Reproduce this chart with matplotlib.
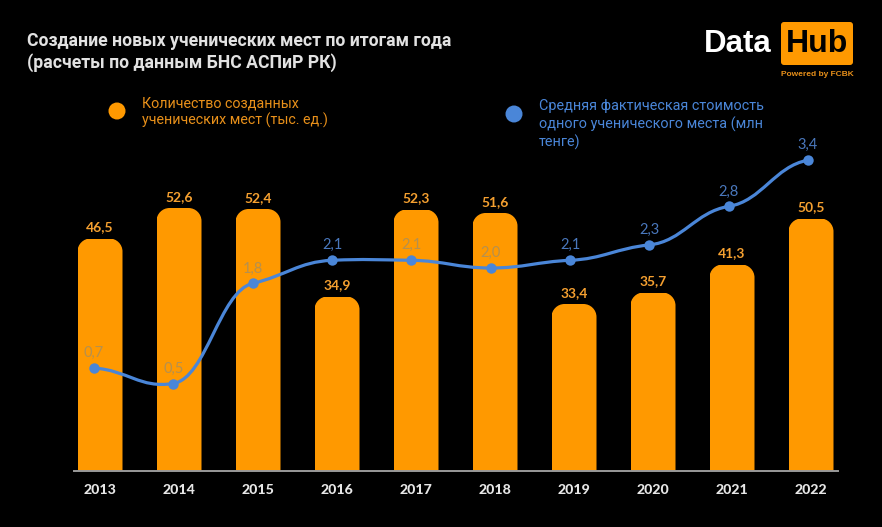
import matplotlib
matplotlib.use('Agg')
import matplotlib.pyplot as plt
from matplotlib.path import Path
from matplotlib.patches import PathPatch, Circle, FancyBboxPatch

W, H = 882, 527
ORANGE = '#ff9900'
BLUE = '#4a86d8'

years = ['2013', '2014', '2015', '2016', '2017', '2018', '2019', '2020', '2021', '2022']
places = [46.5, 52.6, 52.4, 34.9, 52.3, 51.6, 33.4, 35.7, 41.3, 50.5]
cost = [0.7, 0.5, 1.8, 2.1, 2.1, 2.0, 2.1, 2.3, 2.8, 3.4]
# cost labels sitting on top of a bar come out dim
cost_on_bar = [True, True, True, False, True, True, False, False, False, False]


def fmt(v):
    return f'{v:.1f}'.replace('.', ',')


def rounded_top(x0, x1, top, rx, ry):
    k = 0.45
    verts = [(x0, 0), (x0, top - ry), (x0, top - ry * k), (x0 + rx * k, top), (x0 + rx, top),
             (x1 - rx, top), (x1 - rx * k, top), (x1, top - ry * k), (x1, top - ry), (x1, 0), (x0, 0)]
    codes = [Path.MOVETO, Path.LINETO, Path.CURVE4, Path.CURVE4, Path.CURVE4,
             Path.LINETO, Path.CURVE4, Path.CURVE4, Path.CURVE4, Path.LINETO, Path.CLOSEPOLY]
    return Path(verts, codes)


def smooth_path(xs, ys, flat=0.3, h=0.42):
    # long handles and nearly flat tangents give the wavy look of the original line
    n = len(xs)
    m = []
    for i in range(n):
        a = max(i - 1, 0)
        b = min(i + 1, n - 1)
        m.append(flat * (ys[b] - ys[a]) / (xs[b] - xs[a]))
    verts = [(xs[0], ys[0])]
    codes = [Path.MOVETO]
    for i in range(n - 1):
        d = (xs[i + 1] - xs[i]) * h
        verts.append((xs[i] + d, ys[i] + m[i] * d))
        verts.append((xs[i + 1] - d, ys[i + 1] - m[i + 1] * d))
        verts.append((xs[i + 1], ys[i + 1]))
        codes += [Path.CURVE4] * 3
    return Path(verts, codes)


fig = plt.figure(figsize=(W / 100, H / 100), dpi=100, facecolor='black')
bg = fig.add_axes([0, 0, 1, 1])
bg.set_xlim(0, W)
bg.set_ylim(H, 0)
bg.axis('off')

ax = fig.add_axes([74 / W, 1 - 471 / H, 764 / W, 371 / H])
ax.set_facecolor('none')
ax.set_xlim(-26 / 79, 738 / 79)
ax.set_ylim(0, 74.2)
x = list(range(len(years)))
bars = ax.bar(x, places, width=45 / 79, color=ORANGE, linewidth=0)
for rect, v in zip(bars, places):
    x0 = rect.get_x()
    rect.set_clip_path(rounded_top(x0, x0 + rect.get_width(), v, 13 / 79, 13 / 5), ax.transData)
    ax.annotate(fmt(v), (rect.get_x() + rect.get_width() / 2, v), xytext=(0, 11), textcoords='offset pixels',
                ha='center', va='center', color='#f5a030', fontsize=10, fontweight='bold', family='Lato')

for s in ['top', 'left', 'right']:
    ax.spines[s].set_visible(False)
ax.spines['bottom'].set_color('#9a9a9a')
ax.spines['bottom'].set_linewidth(1.4)
ax.set_yticks([])
ax.set_xticks(x)
ax.set_xticklabels(years, color='#e6e6e6', fontsize=10.2, fontweight='black', family='Lato')
ax.tick_params(axis='x', length=0, pad=9)

ax2 = ax.twinx()
ax2.set_facecolor('none')
ax2.set_ylim(-49 / 77, 322 / 77)
ax2.axis('off')
# the line drifts a little against the bars, 6 px left at the start, 3 px at the end
line_x = [i - (6 - i / 3) / 79 for i in x]
ax2.add_patch(PathPatch(smooth_path(line_x, cost), fill=False, edgecolor=BLUE, linewidth=2.3, capstyle='round'))
ax2.plot(line_x, cost, 'o', color=BLUE, markersize=7.5, markeredgewidth=0)
for i, v in enumerate(cost):
    ax2.annotate(fmt(v), (line_x[i], v), xytext=(0, 15), textcoords='offset pixels', ha='center', va='center',
                 color='#b5904f' if cost_on_bar[i] else '#4a78bd', fontsize=10.5, family='Lato')

# title
bg.text(27, 41, 'Создание новых ученических мест по итогам года', color='#e2e2e2', fontsize=12.7,
        fontweight='bold', family='Roboto', va='center')
bg.text(27, 63, '(расчеты по данным БНС АСПиР РК)', color='#e2e2e2', fontsize=12.7,
        fontweight='bold', family='Roboto', va='center')

# legend
bg.add_patch(Circle((117, 111), 8.5, color=ORANGE, lw=0))
bg.text(142, 104, 'Количество созданных', color='#e8901a', fontsize=10.3, family='Roboto', va='center')
bg.text(142, 120, 'ученических мест (тыс. ед.)', color='#e8901a', fontsize=10.3, family='Roboto', va='center')
bg.add_patch(Circle((514, 114), 8.5, color=BLUE, lw=0))
bg.text(539, 106, 'Средняя фактическая стоимость', color=BLUE, fontsize=10.4, family='Roboto', va='center')
bg.text(539, 124, 'одного ученического места (млн', color=BLUE, fontsize=10.4, family='Roboto', va='center')
bg.text(539, 142, 'тенге)', color=BLUE, fontsize=10.4, family='Roboto', va='center')

# logo
bg.add_patch(FancyBboxPatch((784, 25), 66, 37, boxstyle='round,pad=3,rounding_size=3', color=ORANGE, lw=0))
bg.text(738, 44, 'Data', color='white', fontsize=22.5, fontweight='bold', family='Liberation Sans',
        ha='center', va='center')
bg.text(817, 44, 'Hub', color='black', fontsize=23, fontweight='bold', family='Liberation Sans',
        ha='center', va='center')
bg.text(817, 75, 'Powered by FCBK', color='#e8901a', fontsize=6, fontweight='bold', family='Liberation Sans',
        ha='center', va='center')

fig.savefig('out.png', dpi=100, facecolor='black')
